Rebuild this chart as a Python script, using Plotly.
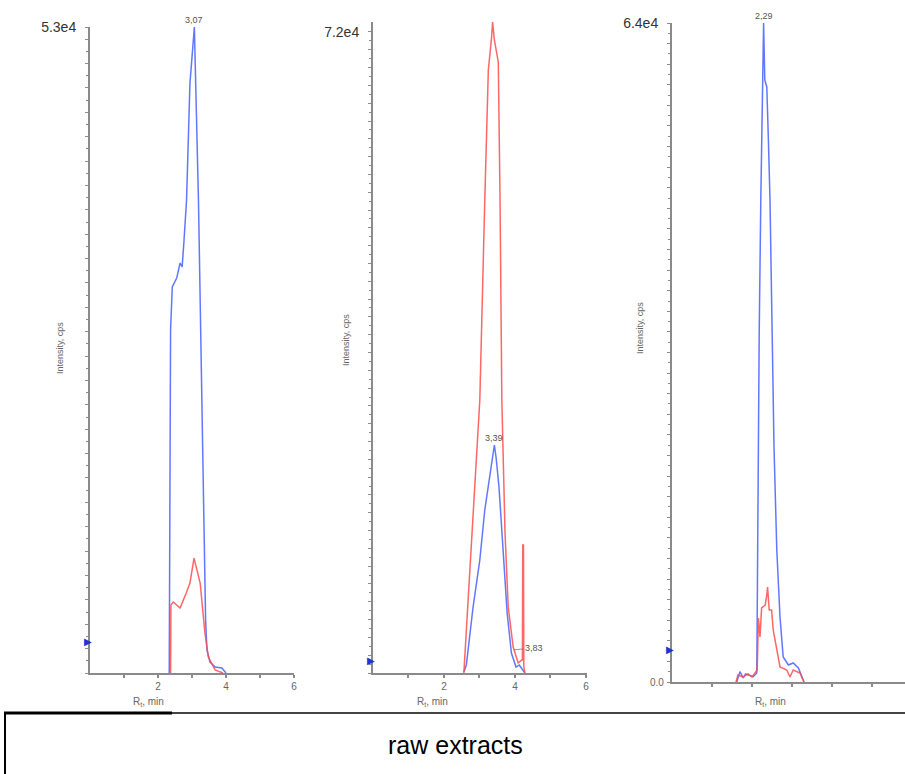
import plotly.graph_objects as go

# ---- chromatogram data (retention time in min, intensity in cps) ----
# panel 1
p1_blue_t = [2.33, 2.35, 2.37, 2.42, 2.55, 2.65, 2.71, 2.76, 2.84, 2.94, 3.07, 3.09, 3.19, 3.29, 3.35, 3.40, 3.44, 3.53, 3.68, 3.88, 4.00]
p1_blue_i = [0, 22400, 28140, 31670, 32400, 33640, 33310, 35280, 38800, 48400, 53000, 50540, 38800, 22400, 10090, 4350, 1890, 900, 490, 410, 0]
p1_red_t = [2.37, 2.38, 2.45, 2.65, 2.83, 2.94, 3.06, 3.24, 3.38, 3.48, 3.68, 3.91]
p1_red_i = [0, 5580, 5820, 5330, 6560, 7380, 9430, 7380, 3280, 1310, 250, 0]

# panel 2
p2_blue_t = [2.56, 2.63, 2.82, 3.01, 3.15, 3.29, 3.38, 3.42, 3.47, 3.55, 3.66, 3.78, 3.90, 4.03, 4.12, 4.22, 4.28]
p2_blue_i = [110, 900, 7410, 12690, 18310, 22020, 24150, 25610, 24150, 20890, 14150, 6740, 2250, 670, 900, 340, 0]
p2_red_t = [2.56, 2.78, 2.92, 3.01, 3.15, 3.25, 3.34, 3.37, 3.42, 3.53, 3.58, 3.63, 3.72, 3.81, 3.95, 4.09, 4.19, 4.21, 4.22, 4.24, 4.25, 4.28]
p2_red_i = [0, 15730, 24260, 30660, 53130, 67730, 71330, 73120, 71100, 68630, 53130, 30660, 15730, 7410, 2920, 1120, 1460, 1460, 14380, 14380, 700, 0]

# panel 3
p3_blue_t = [1.60, 1.62, 1.70, 1.78, 1.84, 1.91, 2.03, 2.12, 2.14, 2.17, 2.18, 2.22, 2.27, 2.29, 2.32, 2.37, 2.41, 2.45, 2.55, 2.62, 2.70, 2.78, 2.91, 3.03, 3.16, 3.24, 3.30]
p3_blue_i = [0, 30, 1000, 390, 780, 680, 510, 870, 12820, 25440, 33890, 46810, 60400, 64000, 58460, 57790, 52640, 46810, 22820, 12820, 6310, 2430, 1650, 1850, 1360, 680, 0]
p3_red_t = [1.60, 1.65, 1.78, 1.90, 2.00, 2.13, 2.16, 2.20, 2.24, 2.33, 2.37, 2.39, 2.43, 2.49, 2.53, 2.62, 2.70, 2.87, 2.95, 3.03, 3.20, 3.30]
p3_red_i = [0, 680, 490, 780, 490, 1170, 6220, 4370, 7190, 7480, 8450, 9230, 6990, 6990, 5050, 3110, 1460, 1170, 490, 1170, 870, 0]

# axis scales and labels
y_max_labels = ["5.3e4", "7.2e4", "6.4e4"]
y_max_values = [53000, 72000, 64000]
y_ranges = [[0, 53000], [0, 73120], [0, 64000]]
x_ranges = [[0, 6.0], [0, 6.03], [0, 5.825]]
x_tick_vals = [1, 2, 3, 4, 5, 6]
x_tick_text = ["", "2", "", "4", "", "6"]
marker_levels = [2625, 1350, 3110]
peak_labels = [("3,07", 3.07, 53000, 1), ("3,39", 3.42, 25610, 2), ("2,29", 2.29, 64000, 3)]
caption = "raw extracts"

W, H = 905, 774
BLUE = "rgba(70,95,255,0.85)"
RED = "rgba(255,75,75,0.85)"
AXIS = "#8a8a8a"

# panel geometry in pixels: (left, right, bottom, top)
boxes = [(90, 294, 673, 27), (373, 587, 673, 22), (672, 905, 682, 23)]

fig = go.Figure()
series = [
    (p1_blue_t, p1_blue_i, p1_red_t, p1_red_i),
    (p2_blue_t, p2_blue_i, p2_red_t, p2_red_i),
    (p3_blue_t, p3_blue_i, p3_red_t, p3_red_i),
]

layout = dict(
    width=W, height=H, margin=dict(l=0, r=0, t=0, b=0, autoexpand=False),
    paper_bgcolor="white", plot_bgcolor="white", showlegend=False,
    font=dict(family="Liberation Sans, Arial", color="#555"),
)

annotations = []
shapes = []

for k, (bt, bi, rt, ri) in enumerate(series):
    n = k + 1
    xa = "x" if n == 1 else f"x{n}"
    ya = "y" if n == 1 else f"y{n}"
    left, right, bottom, top = boxes[k]

    fig.add_trace(go.Scatter(x=bt, y=bi, mode="lines", line=dict(color=BLUE, width=1.5),
                             xaxis=xa, yaxis=ya, hoverinfo="skip"))
    fig.add_trace(go.Scatter(x=rt, y=ri, mode="lines", line=dict(color=RED, width=1.5),
                             xaxis=xa, yaxis=ya, hoverinfo="skip"))

    # blue threshold marker on the intensity axis
    annotations.append(dict(xref=xa, yref=ya, x=0, y=marker_levels[k], text="\u25B6",
                            xanchor="right", yanchor="middle", xshift=4, showarrow=False,
                            font=dict(size=10, color="#1f33d6", family="DejaVu Sans")))

    ymax = y_max_values[k]
    major = [v for v in range(0, ymax, 2000)]
    tvals = major + [ymax]
    ttext = [""] * len(major) + [y_max_labels[k]]
    minor_vals = [v for v in range(1000, ymax, 2000)]

    xkey = "xaxis" if n == 1 else f"xaxis{n}"
    ykey = "yaxis" if n == 1 else f"yaxis{n}"
    layout[xkey] = dict(
        domain=[left / W, min(right / W, 1.0)], range=x_ranges[k], anchor=ya,
        automargin=False,
        showline=True, linecolor=AXIS, linewidth=2, showgrid=False, zeroline=False,
        ticks="outside", ticklen=3, tickwidth=1.5, tickcolor=AXIS,
        tickmode="array", tickvals=x_tick_vals,
        ticktext=x_tick_text if n < 3 else [""] * len(x_tick_vals),
        tickfont=dict(size=10, color="#666"), fixedrange=True,
    )
    layout[ykey] = dict(
        domain=[1 - bottom / H, 1 - top / H], range=y_ranges[k], anchor=xa,
        automargin=False,
        showline=True, linecolor=AXIS, linewidth=2, showgrid=False, zeroline=False,
        ticks="outside", ticklen=3, tickwidth=1, tickcolor=AXIS,
        tickmode="array", tickvals=tvals, ticktext=ttext,
        tickfont=dict(size=14, color="#333"), ticklabelstandoff=6,
        minor=dict(tickvals=minor_vals, ticks="outside", ticklen=2, tickcolor=AXIS, showgrid=False),
        fixedrange=True,
    )

    # axis titles
    rt_x = [148, 432, 770][k]
    annotations.append(dict(xref="paper", yref="paper",
                            x=rt_x / W, y=1 - 702 / H, xanchor="center", yanchor="middle",
                            text="R<sub>t</sub>, min", showarrow=False,
                            font=dict(size=10, color="#666")))
    ylab_x = [60, 346, 640][k]
    ylab_y = [348, 340, 328][k]
    annotations.append(dict(xref="paper", yref="paper", x=ylab_x / W, y=1 - ylab_y / H,
                            xanchor="center", yanchor="middle",
                            text="Intensity, cps", textangle=-90, showarrow=False,
                            font=dict(size=9, color="#666")))

# peak apex labels
for txt, t, inten, n in peak_labels:
    xa = "x" if n == 1 else f"x{n}"
    ya = "y" if n == 1 else f"y{n}"
    annotations.append(dict(xref=xa, yref=ya, x=t, y=inten, text=txt, showarrow=False,
                            xanchor="center", yanchor="bottom", font=dict(size=9, color="#555")))

# minor peak label with a short leader
annotations.append(dict(xref="x2", yref="y2", x=3.97, y=2600, text="3,83",
                        showarrow=True, arrowhead=0, arrowwidth=0.8, arrowcolor="#777",
                        ax=20, ay=-2, font=dict(size=9, color="#555")))

# zero label on the third panel
annotations.append(dict(xref="paper", yref="y3", x=666 / W, y=0, text="0.0",
                        xanchor="right", yanchor="middle", showarrow=False,
                        font=dict(size=10, color="#666")))

# caption box
top_y = 1 - 713 / H
shapes.append(dict(type="line", xref="paper", yref="paper", x0=5 / W, x1=5 / W,
                   y0=-0.01, y1=top_y, line=dict(color="black", width=2)))
shapes.append(dict(type="line", xref="paper", yref="paper", x0=4 / W, x1=172 / W,
                   y0=top_y, y1=top_y, line=dict(color="black", width=3)))
shapes.append(dict(type="line", xref="paper", yref="paper", x0=172 / W, x1=1.01,
                   y0=top_y, y1=top_y, line=dict(color="#444", width=2)))
annotations.append(dict(xref="paper", yref="paper", x=455 / W, y=1 - 745 / H,
                        xanchor="center", yanchor="middle",
                        text=caption, showarrow=False,
                        font=dict(size=25, color="black", family="Liberation Sans, Arial")))

layout["annotations"] = annotations
layout["shapes"] = shapes
fig.update_layout(**layout)
fig.write_html("out.html")
